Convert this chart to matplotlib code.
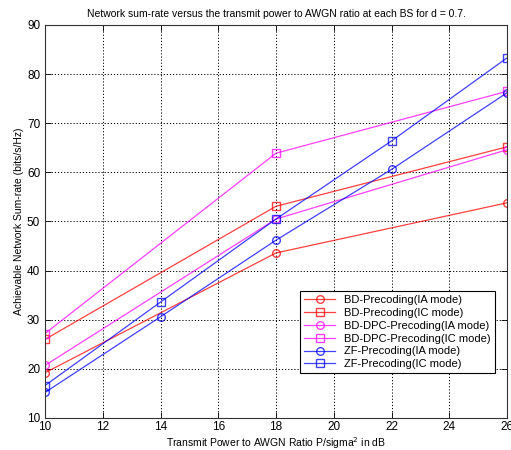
import matplotlib
matplotlib.use('Agg')
import matplotlib.pyplot as plt
import numpy as np

# Data
snr_3 = [10, 18, 26]
snr_5 = [10, 14, 18, 22, 26]

bd_ia = [19.2, 43.6, 53.8]
bd_ic = [26.0, 53.1, 65.2]
bddpc_ia = [20.7, 50.5, 64.6]
bddpc_ic = [27.2, 63.9, 76.5]
zf_ia = [15.2, 30.6, 46.2, 60.6, 76.2]
zf_ic = [16.6, 33.6, 50.5, 66.4, 83.3]

labels = ['BD-Precoding(IA mode)', 'BD-Precoding(IC mode)',
          'BD-DPC-Precoding(IA mode)', 'BD-DPC-Precoding(IC mode)',
          'ZF-Precoding(IA mode)', 'ZF-Precoding(IC mode)']

plt.rcParams['font.family'] = ['Liberation Sans', 'DejaVu Sans']

fig = plt.figure(figsize=(5.11, 4.5), dpi=100)
ax = fig.add_axes([45 / 511, 1 - 418 / 450, (507 - 45) / 511, (418 - 25) / 450])

kw = dict(linewidth=0.9, markersize=5.5, markerfacecolor='none', alpha=0.75)
ax.plot(snr_3, bd_ia, '-o', color='red', markeredgecolor='red', label=labels[0], **kw)
ax.plot(snr_3, bd_ic, '-s', color='red', markeredgecolor='red', label=labels[1], **kw)
ax.plot(snr_3, bddpc_ia, '-o', color='magenta', markeredgecolor='magenta', label=labels[2], **kw)
ax.plot(snr_3, bddpc_ic, '-s', color='magenta', markeredgecolor='magenta', label=labels[3], **kw)
ax.plot(snr_5, zf_ia, '-o', color='blue', markeredgecolor='blue', label=labels[4], **kw)
ax.plot(snr_5, zf_ic, '-s', color='blue', markeredgecolor='blue', label=labels[5], **kw)

ax.set_xlim(10, 26)
ax.set_ylim(10, 90)
ax.set_xticks(np.arange(10, 27, 2))
ax.set_yticks(np.arange(10, 91, 10))
ax.tick_params(direction='in', top=True, right=True, labelsize=8.5, length=4, width=0.6)
ax.tick_params(axis='x', pad=2.5)
ax.grid(True, color='black', linestyle=(0, (1.2, 2)), linewidth=0.7)
for s in ax.spines.values():
    s.set_linewidth(0.8)
    s.set_color('#333333')

ax.set_title('Network sum-rate versus the transmit power to AWGN ratio at each BS for d = 0.7.',
             fontsize=7.5, pad=6)
ax.set_xlabel('Transmit Power to AWGN Ratio P/sigma$^2$ in dB', fontsize=7.5, labelpad=1)
ax.set_ylabel('Achievable Network Sum-rate (bits/s/Hz)', fontsize=7.5, labelpad=2)

leg = ax.legend(loc='lower right', bbox_to_anchor=(0.985, 0.1), fontsize=8,
                fancybox=False, edgecolor='black', framealpha=1,
                handlelength=2.8, labelspacing=0.25, borderpad=0.35)
leg.get_frame().set_linewidth(0.8)

fig.savefig('out.png', dpi=100)
